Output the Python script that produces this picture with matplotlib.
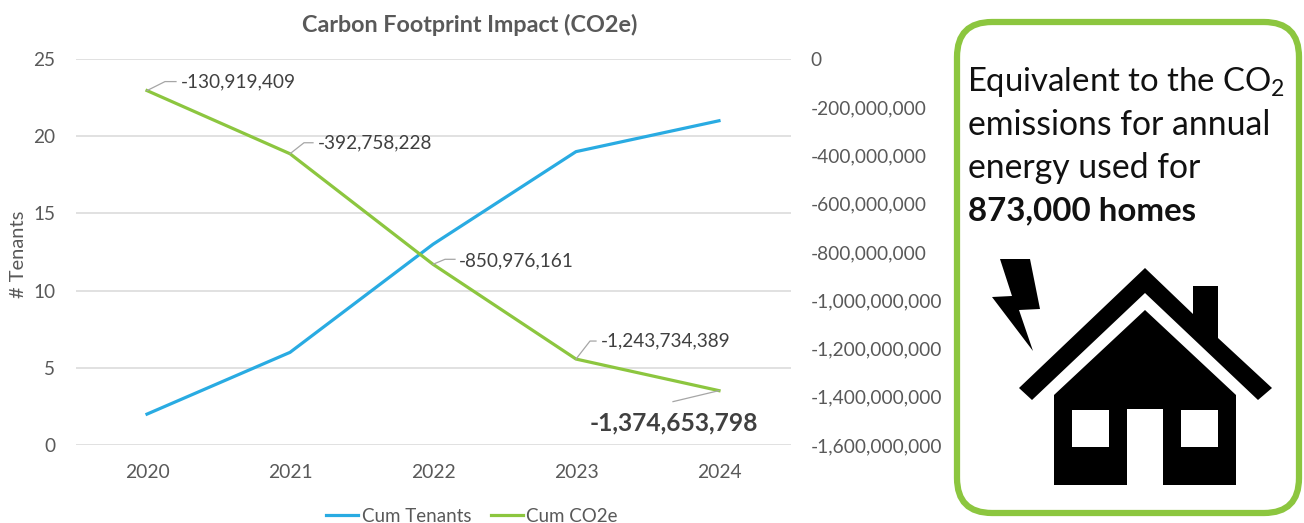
import matplotlib
matplotlib.use("Agg")
import matplotlib.pyplot as plt
from matplotlib.patches import FancyBboxPatch, Polygon, Rectangle
from matplotlib.lines import Line2D
from matplotlib.ticker import FuncFormatter

plt.rcParams['font.family'] = ['Lato', 'DejaVu Sans']
plt.rcParams['mathtext.fontset'] = 'custom'
plt.rcParams['mathtext.rm'] = 'Lato'

years = ['2020', '2021', '2022', '2023', '2024']
cum_tenants = [2, 6, 13, 19, 21]
cum_co2e = [-130919409, -392758228, -850976161, -1243734389, -1374653798]

left_ticks = [0, 5, 10, 15, 20, 25]
right_ticks = [0, -200000000, -400000000, -600000000, -800000000,
               -1000000000, -1200000000, -1400000000, -1600000000]

GREY = '#595959'
BLUE = '#29ABE2'
GREEN = '#8CC63F'
W, H = 1304, 523

fig = plt.figure(figsize=(W / 100, H / 100), dpi=100)
ax = fig.add_axes([75.5 / W, 1 - 445 / H, 715 / W, 386 / H])
ax2 = ax.twinx()

x = list(range(len(years)))
ax.plot(x, cum_tenants, color=BLUE, lw=2.3, solid_joinstyle='round')
ax2.plot(x, cum_co2e, color=GREEN, lw=2.3, solid_joinstyle='round')

ax.set_xlim(-0.5, 4.5)
ax.set_ylim(0, 25)
ax2.set_ylim(-1600000000, 0)
ax.set_xticks(x, years)
ax.set_yticks(left_ticks)
ax2.set_yticks(right_ticks)
ax2.yaxis.set_major_formatter(FuncFormatter(lambda v, p: f'{int(v):,}'))
ax.grid(axis='y', color='#D9D9D9', lw=1.1)
ax.set_axisbelow(True)
ax.tick_params(axis='x', length=0, labelsize=13.9, labelcolor=GREY, pad=14)
ax.tick_params(axis='y', length=0, labelsize=13.7, labelcolor=GREY, pad=14.5)
ax2.tick_params(axis='y', length=0, labelsize=13.8, labelcolor=GREY, pad=14.5)
for a in (ax, ax2):
    for s in a.spines.values():
        s.set_visible(False)
fig.text(19 / W, 1 - 254 / H, '# Tenants', fontsize=14.5, color=GREY, rotation=90,
         ha='center', va='center')
fig.text(470 / W, 1 - 25 / H, 'Carbon Footprint Impact (CO2e)', fontsize=16.8,
         fontweight='bold', color=GREY, ha='center', va='center')

# overlay in pixel coords for leaders and the callout panel
ov = fig.add_axes([0, 0, 1, 1], zorder=5)
ov.set_xlim(0, W)
ov.set_ylim(H, 0)
ov.axis('off')

leaders = [[(18, -9), (29, -9)], [(14, -11), (23, -11)], [(12, -5), (22, -5)],
           [(14, -18), (20, -18)], [(-46, 11)]]
label_pos = [(181, 82), (318, 143), (459, 261), (601, 341)]
fig.canvas.draw()
for i, v in enumerate(cum_co2e):
    px, py = ax2.transData.transform((i, v))
    py = H - py
    xs = [px] + [px + d[0] for d in leaders[i]]
    ys = [py] + [py + d[1] for d in leaders[i]]
    ov.plot(xs, ys, color='#A6A6A6', lw=0.9)
    if i < 4:
        ov.text(label_pos[i][0], label_pos[i][1], f'{v:,}', fontsize=13.7, color='#404040',
                ha='left', va='center')
    else:
        ov.text(590, 423, f'{v:,}', fontsize=17.7, fontweight='bold', color='#404040',
                ha='left', va='center')

handles = [Line2D([], [], color=BLUE, lw=2.3), Line2D([], [], color=GREEN, lw=2.3)]
fig.legend(handles, ['Cum Tenants', 'Cum CO2e'], loc='center', bbox_to_anchor=(472 / W, 1 - 516 / H),
           ncol=2, frameon=False, fontsize=13.5, labelcolor=GREY, handlelength=1.7,
           handletextpad=0.2, columnspacing=1.05, borderpad=0, borderaxespad=0)

# callout panel
ov.add_patch(FancyBboxPatch((992, 57), 272, 421, boxstyle='round,pad=35,rounding_size=35',
                            fc='white', ec=GREEN, lw=4.5))
ov.text(967, 82, r'Equivalent to the CO$_{\mathrm{2}}$', fontsize=23.7, color='#111111', va='center', zorder=8)
ov.text(968, 125, 'emissions for annual', fontsize=24.3, color='#111111', va='center', zorder=8)
ov.text(968, 168, 'energy used for', fontsize=24.3, color='#111111', va='center', zorder=8)
ov.text(968, 211, '873,000 homes', fontsize=23.8, color='#111111', fontweight='bold', va='center', zorder=8)

# house icon
bolt = [(1000, 259), (1030, 259), (1040, 309), (1019, 310), (1033, 351), (992, 297), (1012, 296)]
roof = [(1145, 268), (1193, 314), (1193, 286), (1218, 286), (1218, 338), (1272, 388), (1258, 400),
        (1145, 293), (1032, 400), (1019, 388)]
body = [(1145, 310), (1236, 395), (1236, 485), (1163, 485), (1163, 409), (1127, 409), (1127, 485),
        (1054, 485), (1054, 395)]
for pts in (bolt, roof, body):
    ov.add_patch(Polygon(pts, closed=True, fc='black', ec='none', zorder=8))
for wx in (1072, 1181):
    ov.add_patch(Rectangle((wx, 410), 37, 37, fc='white', ec='none', zorder=9))

fig.savefig('out.png', dpi=100)
